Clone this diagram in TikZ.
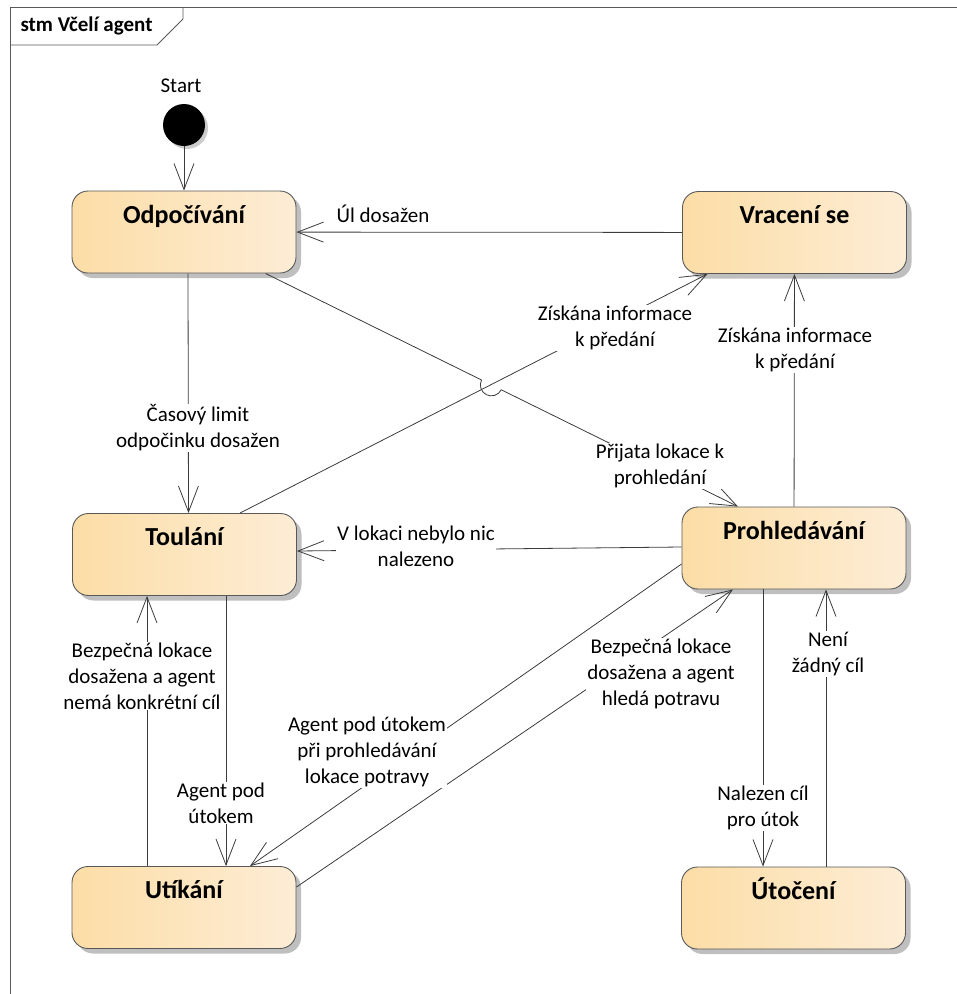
\documentclass[tikz,border=0pt]{standalone}
\usepackage{fontspec}
\setmainfont{Carlito}
\usetikzlibrary{arrows.meta,shadows,calc}
\definecolor{stateleft}{RGB}{252,221,166}
\definecolor{stateright}{RGB}{253,237,214}
\definecolor{edgegray}{RGB}{60,60,60}

\begin{document}
\begin{tikzpicture}
    [x=1pt, y=-1pt,
     state box/.style={draw=black!65, line width=0.9pt, rounded corners=16pt,
       left color=stateleft, right color=stateright,
       minimum width=224pt, minimum height=82pt, inner sep=0pt,
       text height=20pt, text depth=38pt,
       font=\fontsize{26}{30}\selectfont\bfseries,
       drop shadow={shadow xshift=5pt, shadow yshift=-5pt, opacity=0.25, fill=black}},
     trans line/.style={draw=edgegray, line width=0.8pt,
       -{Straight Barb[length=26pt,width=20pt]}},
     guard text/.style={fill=white, inner sep=1pt, align=center,
       font=\fontsize{21}{26}\selectfont}]
    \useasboundingbox (0,0) rectangle (957,994);
    % frame
    \draw[black!65, line width=0.8pt] (957,7) -- (10,7) -- (10,994);
    \draw[black!65, line width=0.8pt] (10,45) -- (157,45) -- (183,19) -- (183,7);
    \node[anchor=west, font=\fontsize{21}{26}\selectfont\bfseries] (tab) at (17,26)
      {stm Včelí agent};
    % states
    \node[circle, fill=black, minimum size=42pt, inner sep=0pt,
      drop shadow={shadow xshift=3pt, shadow yshift=-3pt, opacity=0.2, fill=black}]
      (start) at (184,125) {};
    \node[font=\fontsize{21}{26}\selectfont] (start label) at (181,86) {Start};
    \node[state box] (rest) at (184,232) {Odpočívání};
    \node[state box] (return) at (794.5,232.5) {Vracení se};
    \node[state box] (wander) at (184.5,554.5) {Toulání};
    \node[state box] (search) at (794,548) {Prohledávání};
    \node[state box] (flee) at (184,907.5) {Utíkání};
    \node[state box] (attack) at (793.5,908) {Útočení};
    % transitions
    \draw[trans line] (start) -- (rest);
    \draw[trans line] (return) -- (rest);
    \draw[trans line] ([xshift=4pt]rest.south) -- ([xshift=4pt]wander.north);
    \coordinate (jump) at ($([xshift=81.5pt]rest.south)!0.478!([xshift=-56pt]search.north)$);
    \draw[trans line] ([xshift=81.5pt]rest.south)
      -- ([shift={(153.6:11pt)}]jump) arc[start angle=153.6, end angle=333.6, radius=11pt]
      -- ([xshift=-56pt]search.north);
    \draw[trans line] ([xshift=55.5pt]wander.north) -- ([xshift=-87pt]return.south);
    \draw[trans line] (search) -- (return);
    \draw[trans line] ([yshift=1pt]search.west) -- ([yshift=3.5pt]wander.east);
    \draw[trans line] ([xshift=41.5pt]wander.south) -- ([xshift=42pt]flee.north);
    \draw[trans line] ([xshift=-37pt]flee.north) -- ([xshift=-37.5pt]wander.south);
    \draw[trans line] ([yshift=-16pt]search.west) -- ([xshift=66pt]flee.north);
    \draw[trans line] ([yshift=20.5pt]flee.east) -- ([xshift=-61pt]search.south);
    \draw[trans line] ([xshift=-31pt]search.south) -- ([xshift=-30.5pt]attack.north);
    \draw[trans line] ([xshift=32.5pt]attack.north) -- ([xshift=32pt]search.south);
    % guards
    \node[guard text] (g1) at (383,214) {Úl dosažen};
    \node[guard text] (g2) at (198,428) {Časový limit\\odpočinku dosažen};
    \node[guard text] (g3) at (615,328) {Získána informace\\k předání};
    \node[guard text] (g4) at (795,350) {Získána informace\\k předání};
    \node[guard text] (g5) at (660,466) {Přijata lokace k\\prohledání};
    \node[guard text] (g6) at (416,546) {V lokaci nebylo nic\\nalezeno};
    \node[guard text] (g7) at (142,676) {Bezpečná lokace\\dosažena a agent\\nemá konkrétní cíl};
    \node[guard text] (g8) at (221,803) {Agent pod\\útokem};
    \node[guard text] (g9) at (367,752) {Agent pod útokem\\při prohledávání\\lokace potravy};
    \node[guard text] (g10) at (661,674) {Bezpečná lokace\\dosažena a agent\\hledá potravu};
    \node[guard text] (g11) at (763,808) {Nalezen cíl\\pro útok};
    \node[guard text] (g12) at (828,654) {Není\\žádný cíl};
  \end{tikzpicture}
\end{document}
